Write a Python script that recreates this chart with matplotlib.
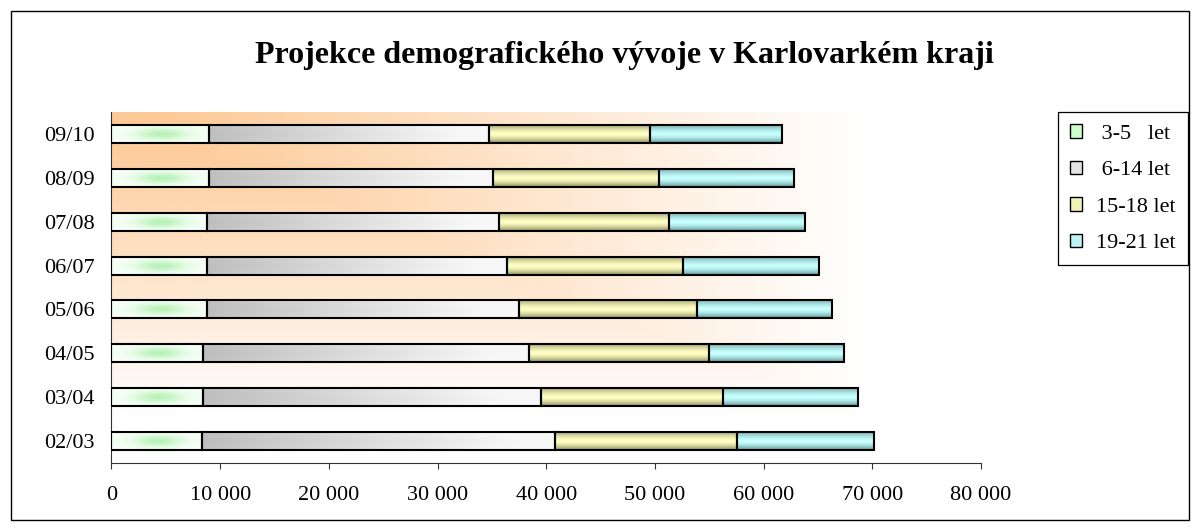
import matplotlib

matplotlib.use("Agg")

import matplotlib.pyplot as plt
import numpy as np
from matplotlib.colors import to_rgb
from matplotlib.patches import Patch, Rectangle
from matplotlib.ticker import FuncFormatter

years = ["02/03", "03/04", "04/05", "05/06", "06/07", "07/08", "08/09", "09/10"]
age_3_5 = [8300, 8420, 8420, 8790, 8790, 8760, 8940, 8940]
age_6_14 = [32500, 31100, 29990, 28730, 27630, 26890, 26190, 25790]
age_15_18 = [16780, 16740, 16560, 16380, 16190, 15670, 15270, 14790]
age_19_21 = [12580, 12420, 12420, 12360, 12510, 12480, 12370, 12140]
labels = [" 3-5   let", " 6-14 let", "15-18 let", "19-21 let"]
legend_colors = ["#ccffcc", "#e4e4e4", "#f2f2b8", "#bff2f2"]

plt.rcParams.update(
    {
        "font.family": "serif",
        "font.serif": ["Liberation Serif", "DejaVu Serif"],
        "font.size": 16,
    }
)


def blend(c0, c1, a):
    c0 = np.array(to_rgb(c0))
    c1 = np.array(to_rgb(c1))
    return c0[None, None, :] * (1 - a[..., None]) + c1[None, None, :] * a[..., None]


def grad_green():
    u = np.linspace(0, 1, 120)[None, :]
    v = np.linspace(-1, 1, 30)[:, None]
    a = np.exp(-((u - 0.52) / 0.26) ** 2) * np.exp(-(v / 0.65) ** 2)
    return blend("#f7fff7", "#b8f2b8", a)


def grad_gray():
    u = np.linspace(0, 1, 200)[None, :]
    v = np.linspace(-1, 1, 30)[:, None]
    a = np.clip(u * 1.1 + 0.08 * np.abs(v), 0, 1)
    return blend("#bdbdbd", "#f7f7f7", a)


def grad_band(edge, mid, top):
    v = np.linspace(-1, 1, 40)[:, None]
    a = np.where(v < 0, 1 - (-v) ** 1.6 * top, 1 - v ** 1.6)
    a = np.repeat(a, 20, axis=1)
    return blend(edge, mid, a)


gradients = [
    grad_green(),
    grad_gray(),
    grad_band("#8a8a5c", "#ffffc4", 0.75),
    grad_band("#5f9595", "#c8ffff", 0.75),
]

fig = plt.figure(figsize=(12, 5.31), dpi=100)
ax = fig.add_axes([0.0929, 0.1281, 0.7246, 0.661])

# plot area background: "from corner" gradient, orange top-left to white
uu, vv = np.meshgrid(np.linspace(0, 1, 300), np.linspace(0, 1, 150))
bg = blend("#ffffff", "#fdca97", np.clip(1.08 - 1.25 * np.maximum(uu, vv), 0, 1))
ax.imshow(bg, extent=(0, 1, 0, 1), transform=ax.transAxes, aspect="auto",
          interpolation="bilinear", zorder=0)

y = np.arange(len(years))
left = np.zeros(len(years))
for values, img in zip([age_3_5, age_6_14, age_15_18, age_19_21], gradients):
    bars = ax.barh(y, values, left=left, height=0.41, facecolor="none",
                   edgecolor="black", linewidth=1.5, zorder=3)
    for patch in bars.patches:
        x0, y0 = patch.get_x(), patch.get_y()
        w, h = patch.get_width(), patch.get_height()
        ax.imshow(img, extent=(x0, x0 + w, y0, y0 + h), aspect="auto",
                  interpolation="bilinear", clip_path=patch, zorder=2)
    left = left + np.array(values)

ax.set_xlim(0, 80000)
ax.set_ylim(-0.5, len(years) - 0.5)
ax.set_yticks(y)
ax.set_yticklabels(years)
ax.set_xticks(np.arange(0, 80001, 10000))
ax.xaxis.set_major_formatter(FuncFormatter(lambda v, p: f"{int(v):,}".replace(",", " ")))
ax.tick_params(axis="y", length=0, pad=12)
ax.tick_params(axis="x", direction="out", length=4.5, width=0.8, color="#333333", pad=12)
ax.spines["top"].set_visible(False)
ax.spines["right"].set_visible(False)
for side in ["left", "bottom"]:
    ax.spines[side].set_color("#333333")
    ax.spines[side].set_linewidth(0.8)

fig.text(0.52, 1 - 56 / 531, "Projekce demografického vývoje v Karlovarkém kraji",
         ha="center", va="center", fontsize=23, fontweight="bold")

handles = [Patch(facecolor=c, edgecolor="black", linewidth=1.0) for c in legend_colors]
leg = fig.legend(handles, labels, loc="upper left", bbox_to_anchor=(1058 / 1200, 1 - 112 / 531),
                 fancybox=False, framealpha=1, edgecolor="black", fontsize=16,
                 handlelength=0.55, handleheight=0.55, handletextpad=0.6,
                 labelspacing=0.76, borderpad=0.55, borderaxespad=0)
leg.get_frame().set_linewidth(0.9)

fig.add_artist(Rectangle((11 / 1200, 11 / 531), 1178 / 1200, 509 / 531,
                         transform=fig.transFigure, fill=False,
                         edgecolor="black", linewidth=1.0))

fig.savefig("out.png", dpi=100)
